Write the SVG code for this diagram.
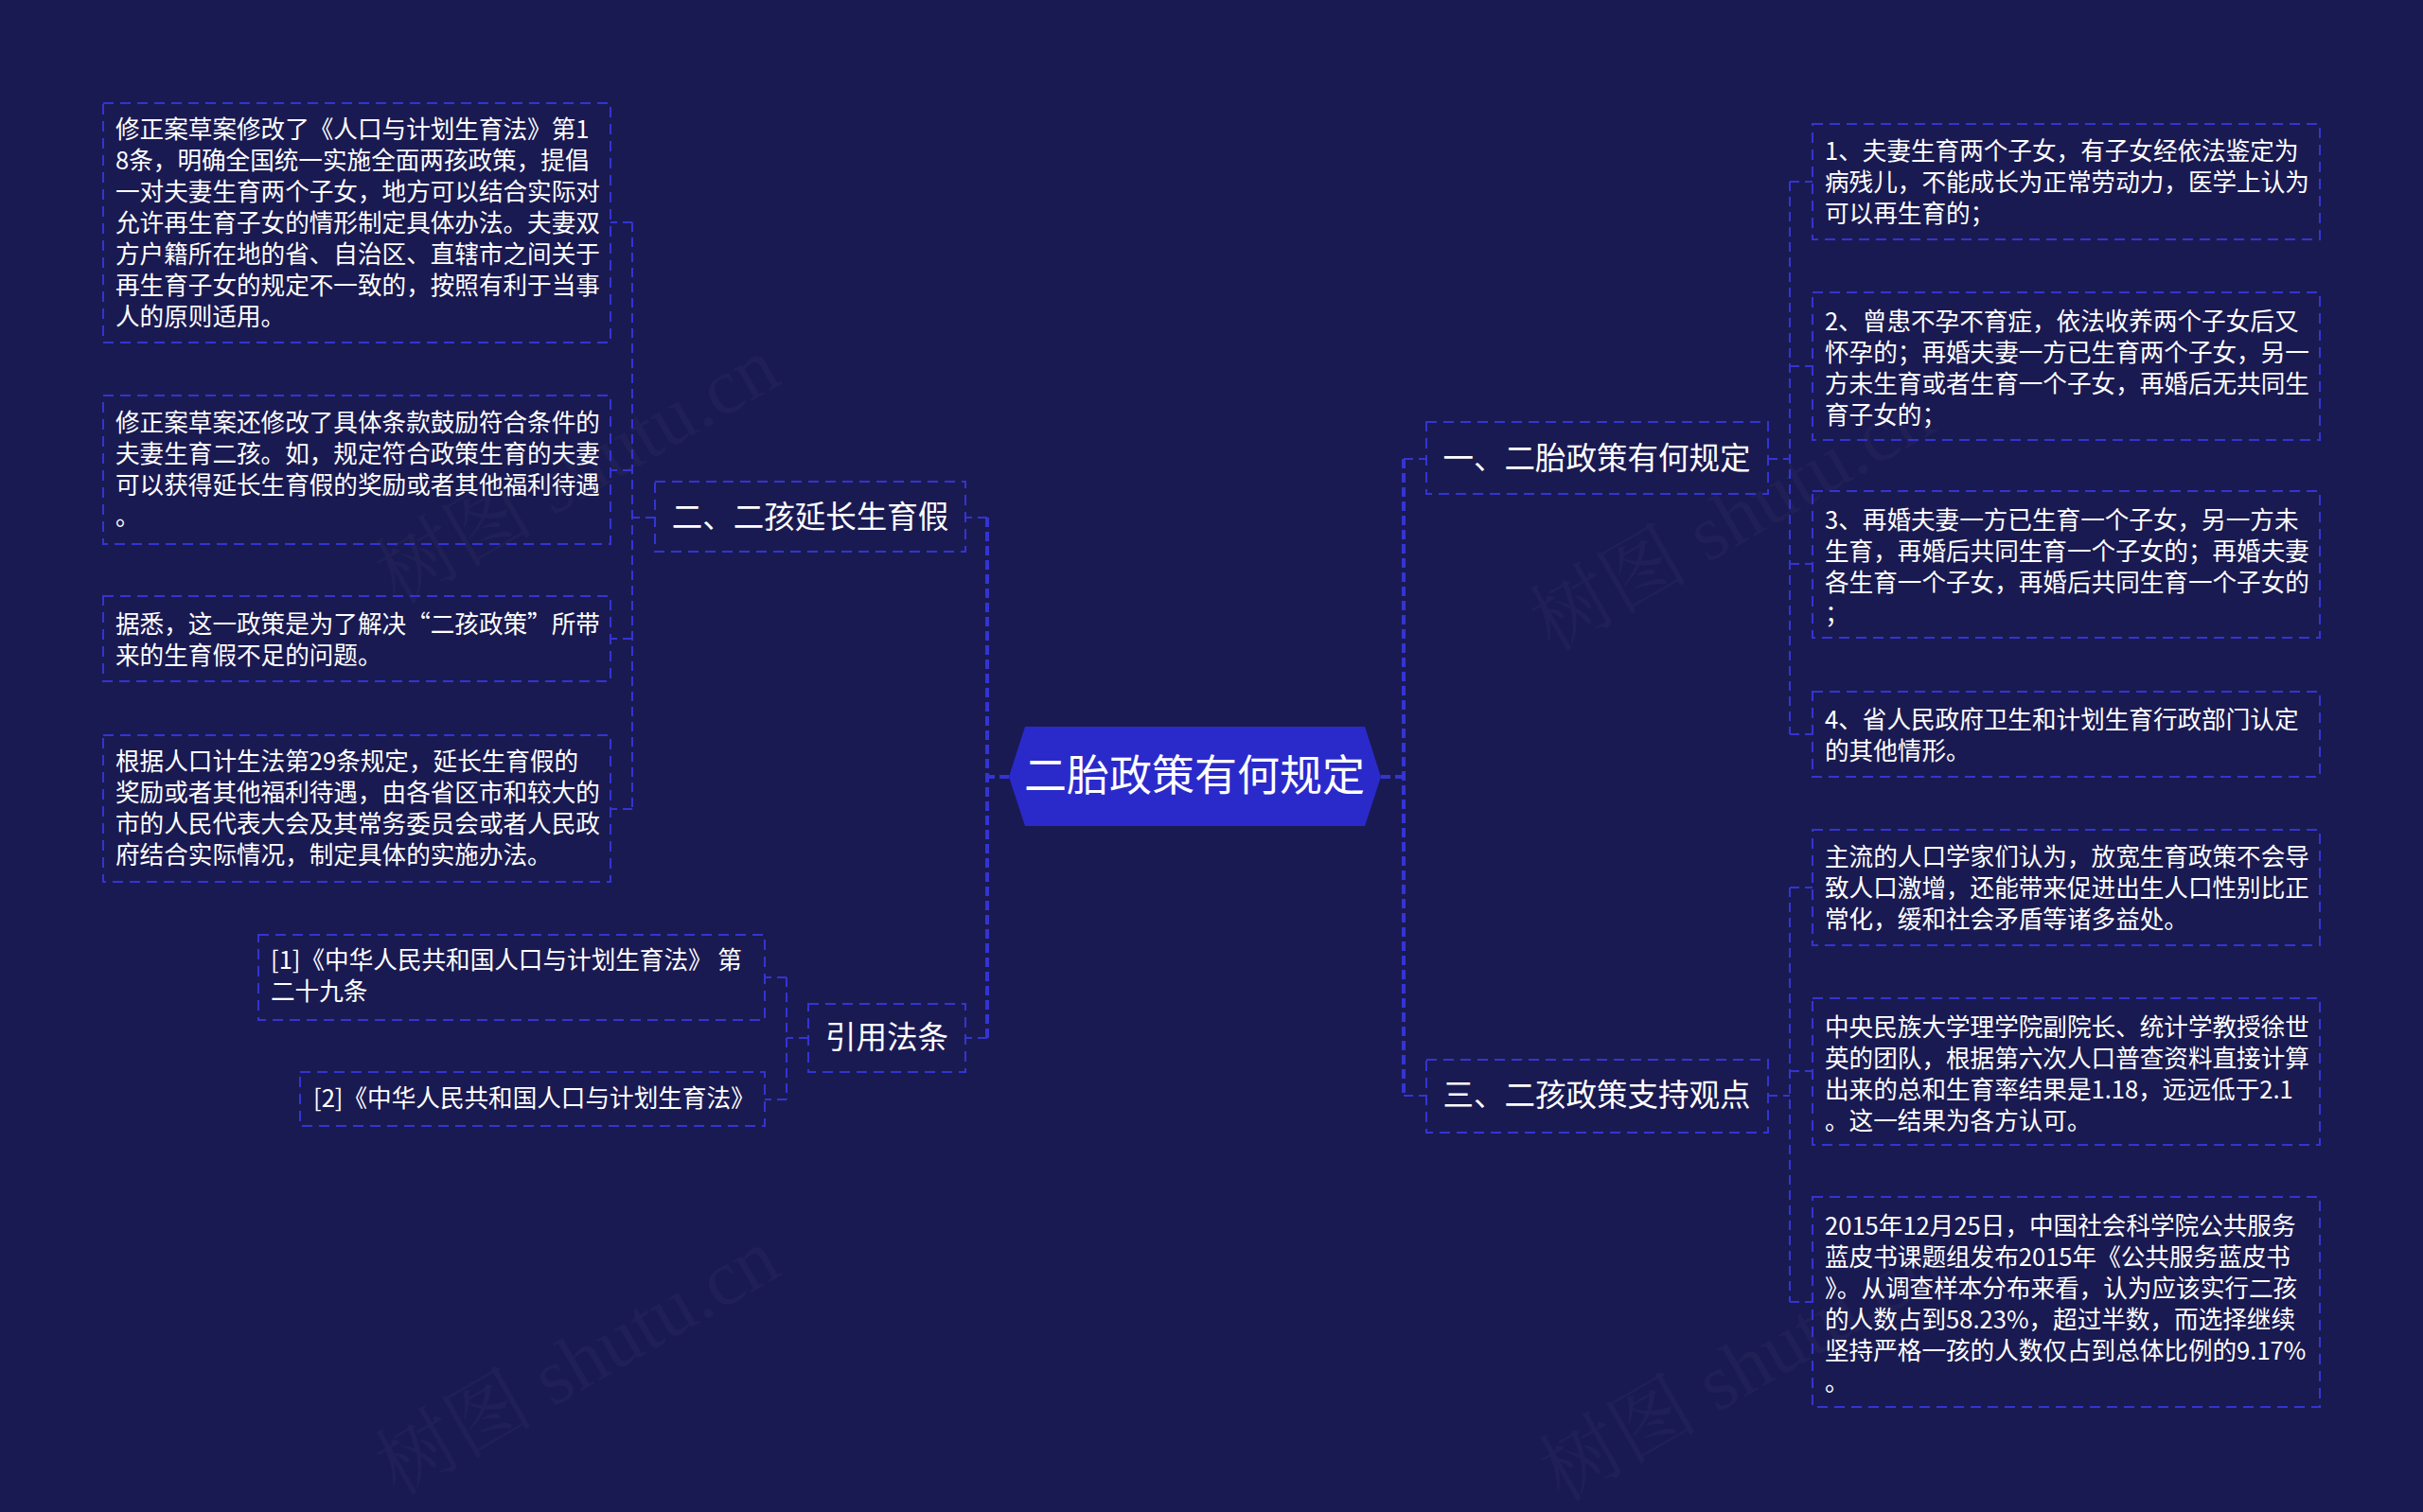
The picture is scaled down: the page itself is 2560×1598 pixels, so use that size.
<svg xmlns="http://www.w3.org/2000/svg" width="2560" height="1598" viewBox="0 0 2560 1598">
<style>
.bg{fill:#1a1a52}
.box{fill:none;stroke:#3434d2;stroke-width:2;stroke-dasharray:11 7}
.t{font-family:"Noto Sans CJK SC","Noto Sans",sans-serif;fill:#ffffff}
.leaf{font-size:25.6px}
.br{font-size:32.5px;text-anchor:middle}
.ctr{font-size:45px;text-anchor:middle}
.main{fill:none;stroke:#3434d2;stroke-width:4;stroke-dasharray:10 5}
.sub{fill:none;stroke:#3434d2;stroke-width:2;stroke-dasharray:10 6}
.wm{font-family:"Liberation Serif","Noto Serif CJK SC","Noto Sans CJK SC",serif;font-size:84px;fill:#ffffff;fill-opacity:0.028}
</style>
<rect class="bg" x="0" y="0" width="2560" height="1598"/>
<g id="watermarks">
<text class="wm" transform="translate(420,640) rotate(-30)">树图 shutu.cn</text>
<text class="wm" transform="translate(1640,690) rotate(-30)">树图 shutu.cn</text>
<text class="wm" transform="translate(420,1582) rotate(-30)">树图 shutu.cn</text>
<text class="wm" transform="translate(1650,1588) rotate(-30)">树图 shutu.cn</text>
</g>
<g id="connectors">
<path class="main" d="M1459,821 H1483 M1483,485 V1158 M1066,821 H1043 M1043,547 V1097"/>
<path class="sub" d="M1483,485 H1507 M1483,1158 H1507 M1043,547 H1020 M1043,1097 H1020"/>
<path class="sub" d="M1868,485 H1891 M1891,192 V776 M1891,192 H1915 M1891,387 H1915 M1891,596 H1915 M1891,776 H1915"/>
<path class="sub" d="M1868,1158 H1891 M1891,938 V1376 M1891,938 H1915 M1891,1132 H1915 M1891,1376 H1915"/>
<path class="sub" d="M692,547 H668 M668,235 V855 M668,235 H645 M668,497 H645 M668,675 H645 M668,855 H645"/>
<path class="sub" d="M854,1097 H831 M831,1033 V1162 M831,1033 H808 M831,1162 H808"/>
</g>
<g id="center">
<polygon points="1066,821 1083,768 1442,768 1459,821 1442,873 1083,873" fill="#2a2acb"/>
<text class="t ctr" x="1262" y="836">二胎政策有何规定</text>
</g>
<g id="branch-2">
<rect class="box" x="692" y="509" width="328" height="74"/>
<text class="t br" x="856" y="558">二、二孩延长生育假</text>
</g>
<g id="branch-cite">
<rect class="box" x="854" y="1061" width="166" height="72"/>
<text class="t br" x="937" y="1108">引用法条</text>
</g>
<g id="branch-1">
<rect class="box" x="1507" y="446" width="361" height="76"/>
<text class="t br" x="1687" y="496">一、二胎政策有何规定</text>
</g>
<g id="branch-3">
<rect class="box" x="1507" y="1120" width="361" height="77"/>
<text class="t br" x="1687" y="1169">三、二孩政策支持观点</text>
</g>
<g id="leaf-a">
<rect class="box" x="109" y="109" width="536" height="253"/>
<text class="t leaf" x="122" y="146">修正案草案修改了《人口与计划生育法》第1</text>
<text class="t leaf" x="122" y="179">8条，明确全国统一实施全面两孩政策，提倡</text>
<text class="t leaf" x="122" y="212">一对夫妻生育两个子女，地方可以结合实际对</text>
<text class="t leaf" x="122" y="245">允许再生育子女的情形制定具体办法。夫妻双</text>
<text class="t leaf" x="122" y="278">方户籍所在地的省、自治区、直辖市之间关于</text>
<text class="t leaf" x="122" y="311">再生育子女的规定不一致的，按照有利于当事</text>
<text class="t leaf" x="122" y="344">人的原则适用。</text>
</g>
<g id="leaf-b">
<rect class="box" x="109" y="418" width="536" height="157"/>
<text class="t leaf" x="122" y="456">修正案草案还修改了具体条款鼓励符合条件的</text>
<text class="t leaf" x="122" y="489">夫妻生育二孩。如，规定符合政策生育的夫妻</text>
<text class="t leaf" x="122" y="522">可以获得延长生育假的奖励或者其他福利待遇</text>
<text class="t leaf" x="122" y="555">。</text>
</g>
<g id="leaf-c">
<rect class="box" x="109" y="630" width="536" height="90"/>
<text class="t leaf" x="122" y="669">据悉，这一政策是为了解决“二孩政策”所带</text>
<text class="t leaf" x="122" y="702">来的生育假不足的问题。</text>
</g>
<g id="leaf-d">
<rect class="box" x="109" y="777" width="536" height="155"/>
<text class="t leaf" x="122" y="814">根据人口计生法第29条规定，延长生育假的</text>
<text class="t leaf" x="122" y="847">奖励或者其他福利待遇，由各省区市和较大的</text>
<text class="t leaf" x="122" y="880">市的人民代表大会及其常务委员会或者人民政</text>
<text class="t leaf" x="122" y="913">府结合实际情况，制定具体的实施办法。</text>
</g>
<g id="cite-1">
<rect class="box" x="273" y="988" width="535" height="90"/>
<text class="t leaf" x="286" y="1024">[1]《中华人民共和国人口与计划生育法》 第</text>
<text class="t leaf" x="286" y="1057">二十九条</text>
</g>
<g id="cite-2">
<rect class="box" x="317" y="1133" width="491" height="57"/>
<text class="t leaf" x="331" y="1170">[2]《中华人民共和国人口与计划生育法》</text>
</g>
<g id="leaf-1">
<rect class="box" x="1915" y="131" width="536" height="122"/>
<text class="t leaf" x="1928" y="169">1、夫妻生育两个子女，有子女经依法鉴定为</text>
<text class="t leaf" x="1928" y="202">病残儿，不能成长为正常劳动力，医学上认为</text>
<text class="t leaf" x="1928" y="235">可以再生育的；</text>
</g>
<g id="leaf-2">
<rect class="box" x="1915" y="309" width="536" height="156"/>
<text class="t leaf" x="1928" y="349">2、曾患不孕不育症，依法收养两个子女后又</text>
<text class="t leaf" x="1928" y="382">怀孕的；再婚夫妻一方已生育两个子女，另一</text>
<text class="t leaf" x="1928" y="415">方未生育或者生育一个子女，再婚后无共同生</text>
<text class="t leaf" x="1928" y="448">育子女的；</text>
</g>
<g id="leaf-3">
<rect class="box" x="1915" y="519" width="536" height="155"/>
<text class="t leaf" x="1928" y="559">3、再婚夫妻一方已生育一个子女，另一方未</text>
<text class="t leaf" x="1928" y="592">生育，再婚后共同生育一个子女的；再婚夫妻</text>
<text class="t leaf" x="1928" y="625">各生育一个子女，再婚后共同生育一个子女的</text>
<text class="t leaf" x="1928" y="658">；</text>
</g>
<g id="leaf-4">
<rect class="box" x="1915" y="731" width="536" height="90"/>
<text class="t leaf" x="1928" y="770">4、省人民政府卫生和计划生育行政部门认定</text>
<text class="t leaf" x="1928" y="803">的其他情形。</text>
</g>
<g id="leaf-5">
<rect class="box" x="1915" y="877" width="536" height="122"/>
<text class="t leaf" x="1928" y="915">主流的人口学家们认为，放宽生育政策不会导</text>
<text class="t leaf" x="1928" y="948">致人口激增，还能带来促进出生人口性别比正</text>
<text class="t leaf" x="1928" y="981">常化，缓和社会矛盾等诸多益处。</text>
</g>
<g id="leaf-6">
<rect class="box" x="1915" y="1055" width="536" height="155"/>
<text class="t leaf" x="1928" y="1095">中央民族大学理学院副院长、统计学教授徐世</text>
<text class="t leaf" x="1928" y="1128">英的团队，根据第六次人口普查资料直接计算</text>
<text class="t leaf" x="1928" y="1161">出来的总和生育率结果是1.18，远远低于2.1</text>
<text class="t leaf" x="1928" y="1194">。这一结果为各方认可。</text>
</g>
<g id="leaf-7">
<rect class="box" x="1915" y="1265" width="536" height="222"/>
<text class="t leaf" x="1928" y="1305">2015年12月25日，中国社会科学院公共服务</text>
<text class="t leaf" x="1928" y="1338">蓝皮书课题组发布2015年《公共服务蓝皮书</text>
<text class="t leaf" x="1928" y="1371">》。从调查样本分布来看，认为应该实行二孩</text>
<text class="t leaf" x="1928" y="1404">的人数占到58.23%，超过半数，而选择继续</text>
<text class="t leaf" x="1928" y="1437">坚持严格一孩的人数仅占到总体比例的9.17%</text>
<text class="t leaf" x="1928" y="1470">。</text>
</g>
</svg>
